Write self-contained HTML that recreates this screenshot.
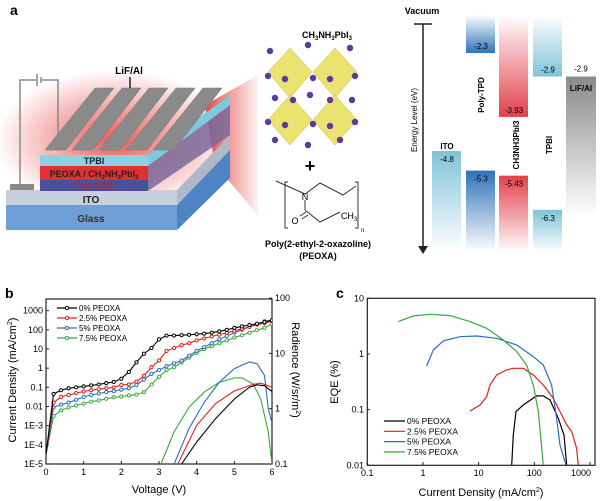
<!DOCTYPE html>
<html><head><meta charset="utf-8"><style>
html,body{margin:0;padding:0;background:#fff;}
svg{display:block;font-family:"Liberation Sans",sans-serif;}
</style></head><body>
<svg id="fig" width="600" height="501" viewBox="0 0 600 501">
<defs>
<linearGradient id="gLB" x1="0" y1="0" x2="0" y2="1"><stop offset="0" stop-color="#7fc3d8"/><stop offset="1" stop-color="#7fc3d8" stop-opacity="0"/></linearGradient>
<linearGradient id="gDB" x1="0" y1="0" x2="0" y2="1"><stop offset="0" stop-color="#2f72b8"/><stop offset="1" stop-color="#2f72b8" stop-opacity="0"/></linearGradient>
<linearGradient id="gDBu" x1="0" y1="1" x2="0" y2="0"><stop offset="0" stop-color="#2f72b8"/><stop offset="1" stop-color="#2f72b8" stop-opacity="0"/></linearGradient>
<linearGradient id="gRu" x1="0" y1="1" x2="0" y2="0"><stop offset="0" stop-color="#e2404a"/><stop offset="1" stop-color="#e2404a" stop-opacity="0"/></linearGradient>
<linearGradient id="gR" x1="0" y1="0" x2="0" y2="1"><stop offset="0" stop-color="#e2404a"/><stop offset="1" stop-color="#e2404a" stop-opacity="0"/></linearGradient>
<linearGradient id="gLBu" x1="0" y1="1" x2="0" y2="0"><stop offset="0" stop-color="#7fc3d8"/><stop offset="1" stop-color="#7fc3d8" stop-opacity="0"/></linearGradient>
<linearGradient id="gG" x1="0" y1="0" x2="0" y2="1"><stop offset="0" stop-color="#8a8a8a"/><stop offset="1" stop-color="#8a8a8a" stop-opacity="0"/></linearGradient>
<linearGradient id="gBeam" x1="0" y1="0" x2="1" y2="0"><stop offset="0" stop-color="#e02020" stop-opacity="0.8"/><stop offset="1" stop-color="#e02020" stop-opacity="0.05"/></linearGradient>
<radialGradient id="gGlow"><stop offset="0" stop-color="#e53030" stop-opacity="0.8"/><stop offset="1" stop-color="#e53030" stop-opacity="0"/></radialGradient>
</defs>

<g>
<text x="10" y="15" font-size="14" font-weight="bold">a</text>
<ellipse cx="115" cy="140" rx="120" ry="70" fill="url(#gGlow)"/>
<polygon points="205,105 258,75 258,215 215,165" fill="url(#gBeam)"/>
<polygon points="177,205 230,150 230,178 177,230" fill="#4f84c4"/>
<rect x="6" y="205" width="171" height="25" fill="#6f9fd6"/>
<text x="91" y="222" font-size="10" font-weight="bold" text-anchor="middle" fill="#333">Glass</text>
<polygon points="177,190 230,135 230,150 177,205" fill="#aeb8c6"/>
<rect x="6" y="190" width="171" height="15" fill="#c8d0dc"/>
<text x="91" y="203" font-size="10" font-weight="bold" text-anchor="middle" fill="#222">ITO</text>
<polygon points="148,155 230,95 230,135 148,191" fill="#7a6a9a" opacity="0.85"/>
<polygon points="148,155 230,95 230,105 148,166" fill="#7fc8df"/>
<rect x="40" y="180" width="108" height="11" fill="#4a4f9a"/>
<text x="94" y="189" font-size="9" font-weight="bold" text-anchor="middle" fill="#a03040">Poly-TPD</text>
<rect x="40" y="166" width="108" height="14" fill="#e03030"/>
<text x="94" y="177" font-size="9" font-weight="bold" text-anchor="middle" fill="#222">PEOXA / CH<tspan font-size="6" dy="2">3</tspan><tspan dy="-2">NH</tspan><tspan font-size="6" dy="2">3</tspan><tspan dy="-2">PbI</tspan><tspan font-size="6" dy="2">3</tspan></text>
<rect x="40" y="155" width="108" height="11" fill="#8fd0e8"/>
<text x="94" y="164" font-size="9" font-weight="bold" text-anchor="middle" fill="#222">TPBI</text>
<g fill="#8a8a8a" stroke="#777" stroke-width="0.5">
<polygon points="45,150 66,150 114,88 95,88"/><polygon points="72,150 93,150 141,88 122,88"/>
<polygon points="99,150 120,150 168,88 149,88"/><polygon points="126,150 147,150 195,88 176,88"/>
<polygon points="153,150 174,150 222,88 203,88"/>
</g>
<polygon points="10,190 34,190 34,184 10,184" fill="#8a8a8a"/>
<polyline points="20,185 20,80 36,80" fill="none" stroke="#888" stroke-width="1.5"/>
<line x1="37" y1="74" x2="37" y2="86" stroke="#888" stroke-width="1.5"/>
<line x1="41" y1="77" x2="41" y2="83" stroke="#888" stroke-width="1.5"/>
<polyline points="42,80 58,80 58,140" fill="none" stroke="#888" stroke-width="1.5"/>
<text x="129" y="74" font-size="10" font-weight="bold" text-anchor="middle">LiF/Al</text>
<line x1="130" y1="77" x2="130" y2="88" stroke="#222" stroke-width="1.5"/>
</g>

<g>
<text x="327" y="38" font-size="9" font-weight="bold" text-anchor="middle">CH<tspan font-size="6" dy="2">3</tspan><tspan dy="-2">NH</tspan><tspan font-size="6" dy="2">3</tspan><tspan dy="-2">PbI</tspan><tspan font-size="6" dy="2">3</tspan></text>
<g fill="#e8e060" stroke="#b8b030" stroke-width="0.5" opacity="0.9">
<polygon points="290,48 312,72 290,98 268,72"/><polygon points="335,48 357,72 335,98 313,72"/>
<polygon points="290,95 312,120 290,145 268,120"/><polygon points="335,95 357,120 335,145 313,120"/>
</g>
<g fill="#5a3a9a" id="dots"></g>
<text x="310" y="172" font-size="18" font-weight="bold" text-anchor="middle">+</text>
<g stroke="#333" stroke-width="1" fill="none">
<polyline points="288,182 285,182 285,228 288,228"/><polyline points="355,182 358,182 358,228 355,228"/>
<polyline points="276,181 305,194 320,183 343,195 356,186"/>
<line x1="305" y1="200" x2="305" y2="210"/>
<polyline points="305,210 320,222 340,212"/>
<line x1="300" y1="216" x2="306" y2="212"/><line x1="302" y1="219" x2="308" y2="215"/>
</g>
<text x="305" y="200" font-size="9" text-anchor="middle">N</text>
<text x="295" y="224" font-size="9" text-anchor="middle">O</text>
<text x="349" y="219" font-size="9" text-anchor="middle">CH<tspan font-size="6" dy="2">3</tspan></text>
<text x="361" y="232" font-size="6">n</text>
<text x="318" y="247" font-size="9" font-weight="bold" text-anchor="middle">Poly(2-ethyl-2-oxazoline)</text>
<text x="318" y="259" font-size="9" font-weight="bold" text-anchor="middle">(PEOXA)</text>
</g>

<g id="energy">
<text x="422" y="14" font-size="9" font-weight="bold" text-anchor="middle">Vacuum</text>
<line x1="414" y1="24" x2="432" y2="24" stroke="#222" stroke-width="1.5"/>
<line x1="423" y1="24" x2="423" y2="248" stroke="#222" stroke-width="1.5"/>
<polygon points="418,246 428,246 423,254" fill="#222"/>
<text transform="translate(417,120) rotate(-90)" font-size="8" text-anchor="middle">Energy Level (eV)</text>
</g>

<g id="pb">
<text x="5" y="298" font-size="14" font-weight="bold">b</text>
<text transform="translate(16,380) rotate(-90)" font-size="11" text-anchor="middle">Current Density (mA/cm<tspan font-size="7" dy="-4">2</tspan><tspan dy="4">)</tspan></text>
<text transform="translate(292,370) rotate(90)" font-size="11" text-anchor="middle">Radience (W/sr/m<tspan font-size="7" dy="-4">2</tspan><tspan dy="4">)</tspan></text>
<text x="159" y="493" font-size="11" text-anchor="middle">Voltage (V)</text>
</g>

<g id="pc">
<text x="336" y="298" font-size="14" font-weight="bold">c</text>
<text transform="translate(338,382) rotate(-90)" font-size="11" text-anchor="middle">EQE (%)</text>
<text x="481" y="496" font-size="11" text-anchor="middle">Current Density (mA/cm<tspan font-size="7" dy="-4">2</tspan><tspan dy="4">)</tspan></text>
</g>
</svg>
<script>
const NS='http://www.w3.org/2000/svg';
function mk(parent,tag,attrs,txt){const e=document.createElementNS(NS,tag);for(const k in attrs)e.setAttribute(k,attrs[k]);if(txt!==undefined)e.textContent=txt;parent.appendChild(e);return e;}

// ===== Energy diagram data =====
const layerNames=['ITO','Poly-TPD','CH3NH3PbI3','TPBI','LiF/Al'];
const lumoLevels=[null,-2.3,-3.93,-2.9,-2.9];
const homoLevels=[-4.8,-5.3,-5.43,-6.3,null];
function eyf(v){return 53+(-v-2.3)*39.2;}
const eg=document.getElementById('energy');
const colX=[432,466,499,533,566];
const colW=30;
const upFills=[null,'url(#gDBu)','url(#gRu)','url(#gLBu)','url(#gG)'];
const lowFills=['url(#gLB)','url(#gDB)','url(#gR)','url(#gLB)',null];
for(let i=0;i<layerNames.length;i++){
  if(lumoLevels[i]!==null){
    const yb=eyf(lumoLevels[i]);
    let r;
    if(i===4){ r=mk(eg,'rect',{x:colX[i],y:yb,width:colW,height:140,fill:'url(#gG)'}); }
    else { r=mk(eg,'rect',{x:colX[i],y:15,width:colW-1,height:yb-15,fill:upFills[i]}); }
    
    
    const t=mk(eg,'text',{x:colX[i]+15,y:i===4?yb-5:yb-4,'font-size':8,'text-anchor':'middle'},String(lumoLevels[i]));
    
    
  }
  if(homoLevels[i]!==null){
    const yt=eyf(homoLevels[i]);
    const r=mk(eg,'rect',{x:colX[i],y:yt,width:colW-1,height:252-yt,fill:lowFills[i]});
    
    
    const t=mk(eg,'text',{x:colX[i]+15,y:yt+11,'font-size':8,'text-anchor':'middle'},String(homoLevels[i]));
    
    
  }
}
mk(eg,'text',{x:447,y:149,'font-size':8,'font-weight':'bold','text-anchor':'middle'},'ITO');
mk(eg,'text',{transform:'translate(484,95) rotate(-90)','font-size':8,'font-weight':'bold','text-anchor':'middle'},'Poly-TPD');
mk(eg,'text',{transform:'translate(519,145) rotate(-90)','font-size':8,'font-weight':'bold','text-anchor':'middle'},'CH3NH3PbI3');
mk(eg,'text',{transform:'translate(552,145) rotate(-90)','font-size':8,'font-weight':'bold','text-anchor':'middle'},'TPBI');
mk(eg,'text',{x:581,y:91,'font-size':8,'font-weight':'bold','text-anchor':'middle'},'LiF/Al');

const dg=document.getElementById('dots');
[[270,51],[308,45],[350,48],[268,76],[285,79],[313,78],[330,79],[355,76],[275,98],[293,100],[310,95],[330,100],[352,100],[268,122],[285,125],[313,124],[330,126],[355,122],[275,140],[308,145],[340,140]].forEach(p=>mk(dg,'circle',{cx:p[0],cy:p[1],r:3.2}));

// ===== Panel b data =====
const seriesNames=['0% PEOXA','2.5% PEOXA','5% PEOXA','7.5% PEOXA'];
const seriesColors=['#000000','#e0201c','#2a6fc0','#3aaa3a'];
const voltages=[0,0.2,0.4,0.6,0.8,1.0,1.2,1.4,1.6,1.8,2.0,2.2,2.4,2.6,2.8,3.0,3.2,3.4,3.6,3.8,4.0,4.2,4.4,4.6,4.8,5.0,5.2,5.4,5.6,5.8,6.0];
const jLog0=[-4.5,-1.35,-1.15,-1.05,-1.0,-0.95,-0.9,-0.85,-0.78,-0.72,-0.55,-0.2,0.3,0.75,1.05,1.5,1.7,1.7,1.72,1.74,1.77,1.8,1.85,1.92,2.0,2.1,2.18,2.25,2.32,2.4,2.5];
const jLog25=[-4.5,-1.8,-1.5,-1.4,-1.3,-1.22,-1.15,-1.1,-1.05,-1.0,-0.88,-0.85,-0.7,-0.4,0.05,0.4,0.9,1.05,1.2,1.3,1.45,1.55,1.65,1.75,1.85,1.95,2.05,2.15,2.27,2.35,2.45];
const jLog5=[-4.5,-2.05,-1.9,-1.8,-1.65,-1.5,-1.4,-1.32,-1.25,-1.2,-1.12,-1.05,-0.88,-0.6,-0.3,-0.1,0.1,0.25,0.4,0.65,0.9,1.1,1.3,1.5,1.68,1.85,2.0,2.15,2.3,2.45,2.5];
const jLog75=[-4.5,-2.5,-2.2,-2.05,-1.95,-1.85,-1.75,-1.68,-1.6,-1.52,-1.48,-1.42,-1.38,-1.25,-0.85,-0.45,-0.1,0.05,0.3,0.55,0.8,1.0,1.15,1.3,1.45,1.6,1.72,1.85,1.98,2.1,2.3];
const radV0=[3.6,4.0,4.5,5.0,5.4,5.6,5.8,6.0];
const rad0=[0.1,0.25,0.66,1.5,2.45,2.7,2.6,2.05];
const radV25=[3.5,4.0,4.5,5.0,5.5,5.7,6.0];
const rad25=[0.1,0.5,1.23,2.1,2.75,2.9,2.45];
const radV5=[3.4,3.8,4.2,4.6,5.0,5.4,5.6,5.8,5.9,6.0];
const rad5=[0.1,0.44,1.3,3.0,5.3,7.0,6.5,4.0,1.0,0.55];
const radV75=[3.05,3.4,3.8,4.2,4.6,5.0,5.2,5.5,5.7,5.9,6.0];
const rad75=[0.1,0.38,1.07,2.0,3.0,3.6,3.6,2.8,1.5,0.38,0.1];
const bXTicks=[0,1,2,3,4,5,6];
const bYTicks=['1E-5','1E-4','1E-3','0.01','0.1','1','10','100','1000'];
const bRTicks=['0.1','1','10','100'];

const bx=v=>46+v*37.67;
const byL=lg=>464-(lg+5)*19.17;
const byR=v=>464-(Math.log10(v)+1)*55.3;
const pb=document.getElementById('pb');
const defs=document.querySelector('defs');
const bclip=mk(defs,'clipPath',{id:'bclip'});mk(bclip,'rect',{x:46,y:299,width:226,height:165});
const bframe=mk(pb,'rect',{x:46,y:299,width:226,height:165,fill:'none',stroke:'#222','stroke-width':1.2});


bXTicks.forEach(v=>{mk(pb,'line',{x1:bx(v),y1:464,x2:bx(v),y2:461,stroke:'#222'});
  const t=mk(pb,'text',{x:bx(v),y:475,'font-size':9,'text-anchor':'middle'},String(v));
  
  });
bYTicks.forEach((s,i)=>{const y=byL(i-5);mk(pb,'line',{x1:46,y1:y,x2:49,y2:y,stroke:'#222'});
  const t=mk(pb,'text',{x:43,y:y+3,'font-size':9,'text-anchor':'end'},s);
  
  });
bRTicks.forEach(s=>{const y=byR(parseFloat(s));mk(pb,'line',{x1:272,y1:y,x2:269,y2:y,stroke:'#222'});
  const t=mk(pb,'text',{x:275,y:y+3,'font-size':9},s);
  
  });
const jSeries=[jLog0,jLog25,jLog5,jLog75];
const radVs=[radV0,radV25,radV5,radV75];
const rads=[rad0,rad25,rad5,rad75];
const cg=mk(pb,'g',{'clip-path':'url(#bclip)'});
for(let s=3;s>=0;s--){
  const pts=radVs[s].map((v,i)=>bx(v).toFixed(1)+','+byR(rads[s][i]).toFixed(1)).join(' ');
  const l=mk(cg,'polyline',{points:pts,fill:'none',stroke:seriesColors[s],'stroke-width':1.1});
  
  
}
for(let s=3;s>=0;s--){
  const pts=voltages.map((v,i)=>bx(v).toFixed(1)+','+byL(jSeries[s][i]).toFixed(1)).join(' ');
  const l=mk(cg,'polyline',{points:pts,fill:'none',stroke:seriesColors[s],'stroke-width':1.1});
  
  
  voltages.forEach((v,i)=>{if(i===0)return;const c=mk(cg,'circle',{cx:bx(v),cy:byL(jSeries[s][i]),r:1.6,fill:'#fff',stroke:seriesColors[s],'stroke-width':1});
    
    });
}
seriesNames.forEach((n,i)=>{const y=308+i*10;
  mk(pb,'line',{x1:57,y1:y,x2:77,y2:y,stroke:seriesColors[i],'stroke-width':1.2});
  mk(pb,'circle',{cx:67,cy:y,r:1.6,fill:'#fff',stroke:seriesColors[i]});
  const t=mk(pb,'text',{x:79,y:y+3,'font-size':8},n);
  
  });

// ===== Panel c data =====
const eqeX0=[1.593,1.623,1.671,1.802,2.042,2.162,2.281,2.431,2.533,2.581];
const eqeY0=[-2,-1.455,-1.036,-0.916,-0.754,-0.754,-0.826,-1.156,-1.455,-2];
const eqeX25=[0.844,1.024,1.144,1.204,1.323,1.503,1.623,1.802,1.982,2.162,2.341,2.461,2.581,2.671,2.760,2.790];
const eqeY25=[-1.024,-0.916,-0.766,-0.557,-0.377,-0.287,-0.257,-0.257,-0.377,-0.557,-0.796,-1.036,-1.275,-1.395,-1.695,-2];
const eqeX5=[0.066,0.186,0.365,0.665,0.964,1.323,1.683,1.982,2.162,2.311,2.401,2.461,2.569];
const eqeY5=[-0.216,0.072,0.234,0.311,0.323,0.281,0.162,-0.048,-0.198,-0.557,-1.156,-1.635,-2];
const eqeX75=[-0.443,-0.174,0.126,0.485,0.844,1.144,1.443,1.683,1.862,1.982,2.072,2.162];
const eqeY75=[0.581,0.683,0.713,0.689,0.581,0.461,0.251,0.042,-0.198,-0.557,-1.036,-2];
const cXTicks=['0.1','1','10','100','1000'];
const cYTicks=['0.01','0.1','1','10'];
const cx=lg=>367.3+(lg+1)*55.67;
const cy=lg=>298.3+(1-lg)*55.67;
const pc=document.getElementById('pc');
const cclip=mk(defs,'clipPath',{id:'cclip'});mk(cclip,'rect',{x:367,y:298,width:228,height:167});
const cframe=mk(pc,'rect',{x:367.3,y:298.3,width:227.7,height:167,fill:'none',stroke:'#222','stroke-width':1.2});


cXTicks.forEach((s,i)=>{const x=cx(Math.log10(parseFloat(s)));mk(pc,'line',{x1:x,y1:465,x2:x,y2:462,stroke:'#222'});
  const last=i===cXTicks.length-1;
  const t=mk(pc,'text',{x:last?x+1:x,y:476,'font-size':9,'text-anchor':last?'end':'middle'},s);
  
  });
cYTicks.forEach(s=>{const y=cy(Math.log10(parseFloat(s)));mk(pc,'line',{x1:367,y1:y,x2:370,y2:y,stroke:'#222'});
  const t=mk(pc,'text',{x:364,y:y+3,'font-size':9,'text-anchor':'end'},s);
  
  });
const eqeXs=[eqeX0,eqeX25,eqeX5,eqeX75], eqeYs=[eqeY0,eqeY25,eqeY5,eqeY75];
const ccg=mk(pc,'g',{'clip-path':'url(#cclip)'});
for(let s=0;s<4;s++){
  const pts=eqeXs[s].map((x,i)=>cx(x).toFixed(1)+','+cy(eqeYs[s][i]).toFixed(1)).join(' ');
  const l=mk(ccg,'polyline',{points:pts,fill:'none',stroke:seriesColors[s],'stroke-width':1.2});
  
  
}
seriesNames.forEach((n,i)=>{const y=421+i*10.3;
  mk(pc,'line',{x1:384,y1:y,x2:405,y2:y,stroke:seriesColors[i],'stroke-width':1.2});
  const t=mk(pc,'text',{x:407,y:y+3,'font-size':8.5},n);
  
  });
</script>
</body></html>
